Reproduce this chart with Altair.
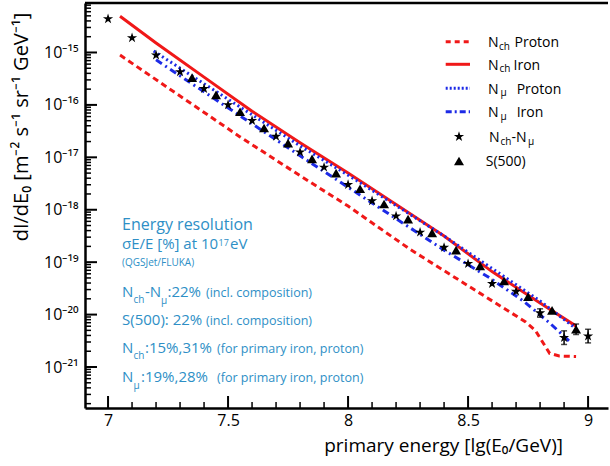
import altair as alt
import pandas as pd

# ---------------- data ----------------
# N_ch - N_mu reconstruction (stars): lg(E0/GeV) and lg(dI/dE0)
star_lgE = [7.0, 7.1, 7.2, 7.3, 7.4, 7.5, 7.6, 7.7, 7.8, 7.9, 8.0,
            8.1, 8.2, 8.3, 8.4, 8.5, 8.6, 8.7, 8.8, 8.9, 9.0]
star_lgI = [-14.36, -14.72, -15.05, -15.37, -15.69, -16.00, -16.30, -16.60, -16.90, -17.19, -17.52,
            -17.83, -18.12, -18.43, -18.72, -19.03, -19.41, -19.56, -19.97, -20.44, -20.41]

# S(500) reconstruction (triangles)
s500_lgE = [7.35, 7.45, 7.55, 7.65, 7.75, 7.85, 7.95, 8.05, 8.15, 8.25,
            8.35, 8.45, 8.55, 8.65, 8.75, 8.85, 8.95]
s500_lgI = [-15.48, -15.81, -16.13, -16.44, -16.73, -17.03, -17.30, -17.60, -17.89, -18.18,
            -18.44, -18.77, -19.07, -19.36, -19.66, -19.92, -20.28]

# error bars (half width in decades)
err_star_lgE = [8.8, 8.9, 9.0]
err_star_lgI = [-19.97, -20.44, -20.41]
err_star_d = [0.08, 0.13, 0.13]
err_s500_lgE = [8.95]
err_s500_lgI = [-20.28]
err_s500_d = [0.10]

# model curves
nch_p_lgE = [7.05, 7.3, 7.55, 7.8, 8.0, 8.26, 8.5, 8.74, 8.78, 8.84, 8.88, 8.95]
nch_p_lgI = [-15.05, -15.83, -16.61, -17.35, -17.93, -18.76, -19.45, -20.14, -20.30, -20.74, -20.79, -20.80]

nch_fe_lgE = [7.05, 7.2, 7.4, 7.6, 7.8, 8.0, 8.2, 8.4, 8.6, 8.8, 8.95]
nch_fe_lgI = [-14.31, -14.82, -15.47, -16.12, -16.72, -17.30, -17.90, -18.50, -19.18, -19.78, -20.22]

nmu_p_lgE = [7.19, 7.3, 7.55, 7.8, 8.0, 8.2, 8.4, 8.6, 8.8, 8.95]
nmu_p_lgI = [-14.97, -15.30, -16.04, -16.78, -17.34, -17.92, -18.50, -19.12, -19.74, -20.27]

nmu_fe_lgE = [7.2, 7.4, 7.59, 7.8, 8.0, 8.2, 8.4, 8.59, 8.73, 8.84, 8.93]
nmu_fe_lgI = [-15.14, -15.75, -16.33, -16.97, -17.57, -18.17, -18.77, -19.30, -19.74, -20.16, -20.54]

x_major = [7, 7.5, 8, 8.5, 9]
y_decades = [-21, -20, -19, -18, -17, -16, -15]

# ---------------- style ----------------
FONT = "Open Sans"
CYAN = "#2e8fc6"
RED = "#f01818"
BLUE = "#1c2ae6"
W, H = 523, 405
PADL, PADT, PADR, PADB = 85, 3, 2, 58
X_DOM = [6.904, 9.083]
Y_DOM = [10 ** -21.782, 10 ** -14.056]

STAR = ("M0,-1 L0.2245,-0.309 L0.951,-0.309 L0.363,0.118 L0.588,0.809 L0,0.382 "
        "L-0.588,0.809 L-0.363,0.118 L-0.951,-0.309 L-0.2245,-0.309 Z")

SUP = {"-": "\u207b", "0": "\u2070", "1": "\u00b9", "2": "\u00b2", "3": "\u00b3",
       "4": "\u2074", "5": "\u2075", "6": "\u2076", "7": "\u2077", "8": "\u2078", "9": "\u2079"}


def sup(e):
    return "".join(SUP[c] for c in str(e))


label_expr = ""
for e in y_decades:
    label_expr += f"abs(log(datum.value)/LN10 - ({e})) < 0.01 ? '10{sup(e)}' : "
label_expr += "''"

xsc = alt.Scale(domain=X_DOM, nice=False, zero=False)
ysc = alt.Scale(type="log", domain=Y_DOM, nice=False)
xaxis = alt.Axis(values=x_major, title=None, ticks=False, tickSize=0, grid=False,
                 labelExpr="'' + datum.value", labelFont=FONT, labelFontSize=16,
                 labelColor="black", labelPadding=4, labelFlush=False, labelOverlap=False,
                 domainColor="black", domainWidth=2.5)
yaxis = alt.Axis(values=[10.0 ** e for e in y_decades], title=None, ticks=False, tickSize=0,
                 grid=False, labelExpr=label_expr, labelFont=FONT, labelFontSize=16,
                 labelColor="black", labelPadding=7, labelFlush=False, labelOverlap=False,
                 domainColor="black", domainWidth=2.5)


def X(f):
    return alt.X(f, type="quantitative", scale=xsc, axis=xaxis)


def Y(f):
    return alt.Y(f, type="quantitative", scale=ysc, axis=yaxis)


one = pd.DataFrame({"k": [0]})


def T(s, x, y, size, color=CYAN, align="left", baseline="alphabetic", angle=None):
    kw = dict(text=s, fontSize=size, color=color, font=FONT, align=align, baseline=baseline)
    if angle is not None:
        kw["angle"] = angle
    return alt.Chart(one).mark_text(**kw).encode(x=alt.value(x - PADL), y=alt.value(y - PADT))


def curve(lgE, lgI, color, dash, width=3):
    df = pd.DataFrame({"e": lgE, "f": [10.0 ** v for v in lgI]})
    kw = dict(color=color, strokeWidth=width, clip=True)
    if dash:
        kw["strokeDash"] = dash
    return alt.Chart(df).mark_line(**kw).encode(x=X("e"), y=Y("f"))


layers = []

# inward ticks
x_minor = [round(7.0 + 0.1 * i, 1) for i in range(21)]
x_minor = [v for v in x_minor if v not in x_major]
y_major = [10.0 ** e for e in y_decades]
y_minor = []
for e in range(-22, -14):
    for m in range(2, 10):
        v = m * 10.0 ** e
        if Y_DOM[0] < v < Y_DOM[1]:
            y_minor.append(v)

layers.append(alt.Chart(pd.DataFrame({"v": x_major})).mark_rule(color="black", strokeWidth=2)
              .encode(x=X("v"), y=alt.value(H), y2=alt.value(H - 12)))
layers.append(alt.Chart(pd.DataFrame({"v": x_minor})).mark_rule(color="black", strokeWidth=1.5)
              .encode(x=X("v"), y=alt.value(H), y2=alt.value(H - 6)))
layers.append(alt.Chart(pd.DataFrame({"v": y_major})).mark_rule(color="black", strokeWidth=2)
              .encode(y=Y("v"), x=alt.value(0), x2=alt.value(12)))
layers.append(alt.Chart(pd.DataFrame({"v": y_minor})).mark_rule(color="black", strokeWidth=1.5)
              .encode(y=Y("v"), x=alt.value(0), x2=alt.value(6)))
# top frame
layers.append(alt.Chart(one).mark_rule(color="black", strokeWidth=2.5)
              .encode(x=alt.value(0), x2=alt.value(W), y=alt.value(0)))

# curves
layers.append(curve(nch_p_lgE, nch_p_lgI, RED, [6, 4]))
layers.append(curve(nch_fe_lgE, nch_fe_lgI, RED, None))
layers.append(curve(nmu_p_lgE, nmu_p_lgI, BLUE, [2, 3]))
layers.append(curve(nmu_fe_lgE, nmu_fe_lgI, BLUE, [7, 4, 2, 4]))

# error bars
for lgE, lgI, d in [(err_star_lgE, err_star_lgI, err_star_d), (err_s500_lgE, err_s500_lgI, err_s500_d)]:
    df = pd.DataFrame({"e": lgE,
                       "lo": [10.0 ** (a - b) for a, b in zip(lgI, d)],
                       "hi": [10.0 ** (a + b) for a, b in zip(lgI, d)]})
    layers.append(alt.Chart(df).mark_rule(color="black", strokeWidth=1.5)
                  .encode(x=X("e"), y=Y("lo"), y2="hi"))
    layers.append(alt.Chart(df).mark_point(shape="stroke", size=36, color="black", strokeWidth=1.5)
                  .encode(x=X("e"), y=Y("lo")))
    layers.append(alt.Chart(df).mark_point(shape="stroke", size=36, color="black", strokeWidth=1.5)
                  .encode(x=X("e"), y=Y("hi")))

# markers
star_df = pd.DataFrame({"e": star_lgE, "f": [10.0 ** v for v in star_lgI]})
s500_df = pd.DataFrame({"e": s500_lgE, "f": [10.0 ** v for v in s500_lgI]})
layers.append(alt.Chart(star_df).mark_point(shape=STAR, filled=True, color="black", size=115, opacity=1)
              .encode(x=X("e"), y=Y("f")))
layers.append(alt.Chart(s500_df).mark_point(shape="triangle-up", filled=True, color="black", size=100, opacity=1)
              .encode(x=X("e"), y=Y("f")))

# legend
leg_rows = [41.7, 64.3, 88.3, 111.7, 136.7, 161.0]
leg_styles = [(RED, [5, 4]), (RED, None), (BLUE, [2, 2]), (BLUE, [6, 3, 2, 3])]
for yy, (col, dash) in zip(leg_rows[:4], leg_styles):
    kw = dict(color=col, strokeWidth=3)
    if dash:
        kw["strokeDash"] = dash
    layers.append(alt.Chart(one).mark_rule(**kw)
                  .encode(x=alt.value(445.7 - PADL), x2=alt.value(470 - PADL), y=alt.value(yy - PADT)))
layers.append(alt.Chart(one).mark_point(shape=STAR, filled=True, color="black", size=115, opacity=1)
              .encode(x=alt.value(459 - PADL), y=alt.value(leg_rows[4] - PADT)))
layers.append(alt.Chart(one).mark_point(shape="triangle-up", filled=True, color="black", size=100, opacity=1)
              .encode(x=alt.value(459 - PADL), y=alt.value(leg_rows[5] - PADT)))

LB = 5.3   # baseline offset of legend text
LS = 8.0   # subscript baseline offset
K = "black"
legend_texts = [
    ("N", 488, leg_rows[0] + LB, 14), ("ch", 499, leg_rows[0] + LS, 10), ("Proton", 514.5, leg_rows[0] + LB, 14),
    ("N", 488, leg_rows[1] + LB, 14), ("ch", 499.5, leg_rows[1] + LS, 10), ("Iron", 513.5, leg_rows[1] + LB, 14),
    ("N", 488, leg_rows[2] + LB, 14), ("\u03bc", 500.5, leg_rows[2] + LS, 10), ("Proton", 516.7, leg_rows[2] + LB, 14),
    ("N", 488, leg_rows[3] + LB, 14), ("\u03bc", 500.5, leg_rows[3] + LS, 10), ("Iron", 516.7, leg_rows[3] + LB, 14),
    ("N", 489, leg_rows[4] + LB, 14), ("ch", 500.5, leg_rows[4] + LS, 10), ("-N", 511.5, leg_rows[4] + LB, 14),
    ("\u03bc", 528, leg_rows[4] + LS, 10),
    ("S(500)", 485.7, leg_rows[5] + LB, 14),
]
for s, x, y, size in legend_texts:
    layers.append(T(s, x, y, size, color=K))

# energy resolution block
block = [
    ("Energy resolution", 122, 230, 16),
    ("\u03c3E/E [%] at 10", 122, 249.3, 15), ("17", 218.5, 246, 9), ("eV", 230, 249.3, 15),
    ("(QGSJet/FLUKA)", 122, 266, 10),
    ("N", 122, 297.3, 15), ("ch", 133.5, 303.3, 10), ("-N", 145, 297.3, 15), ("\u03bc", 161, 304, 10),
    (":22%", 167.5, 297.3, 15), ("(incl. composition)", 206, 297.3, 12.5),
    ("S(500): 22%", 122, 325, 15), ("(incl. composition)", 206, 325, 12.5),
    ("N", 122, 353.3, 15), ("ch", 133.5, 359.3, 10), (":15%,31%", 145, 353.3, 15),
    ("(for primary iron, proton)", 217, 353.3, 12.5),
    ("N", 122, 381.7, 15), ("\u03bc", 133.5, 388.5, 10), (":19%,28%", 141, 381.7, 15),
    ("(for primary iron, proton)", 217, 381.7, 12.5),
]
for s, x, y, size in block:
    layers.append(T(s, x, y, size))

# axis titles
layers.append(T("primary energy [lg(E\u2080/GeV)]", 563, 452, 19, color=K, align="right"))
layers.append(T("dI/dE\u2080 [m\u207b\u00b2 s\u207b\u00b9 sr\u207b\u00b9 GeV\u207b\u00b9]", 22, 127, 20,
                color=K, align="center", baseline="middle", angle=270))

chart = alt.layer(*layers).properties(
    width=W, height=H,
    padding={"left": PADL, "top": PADT, "right": PADR, "bottom": PADB},
    autosize=alt.AutoSizeParams(type="none"),
).configure_view(stroke=None)

chart.save("out.html", embed_options={"renderer": "svg", "actions": False})
